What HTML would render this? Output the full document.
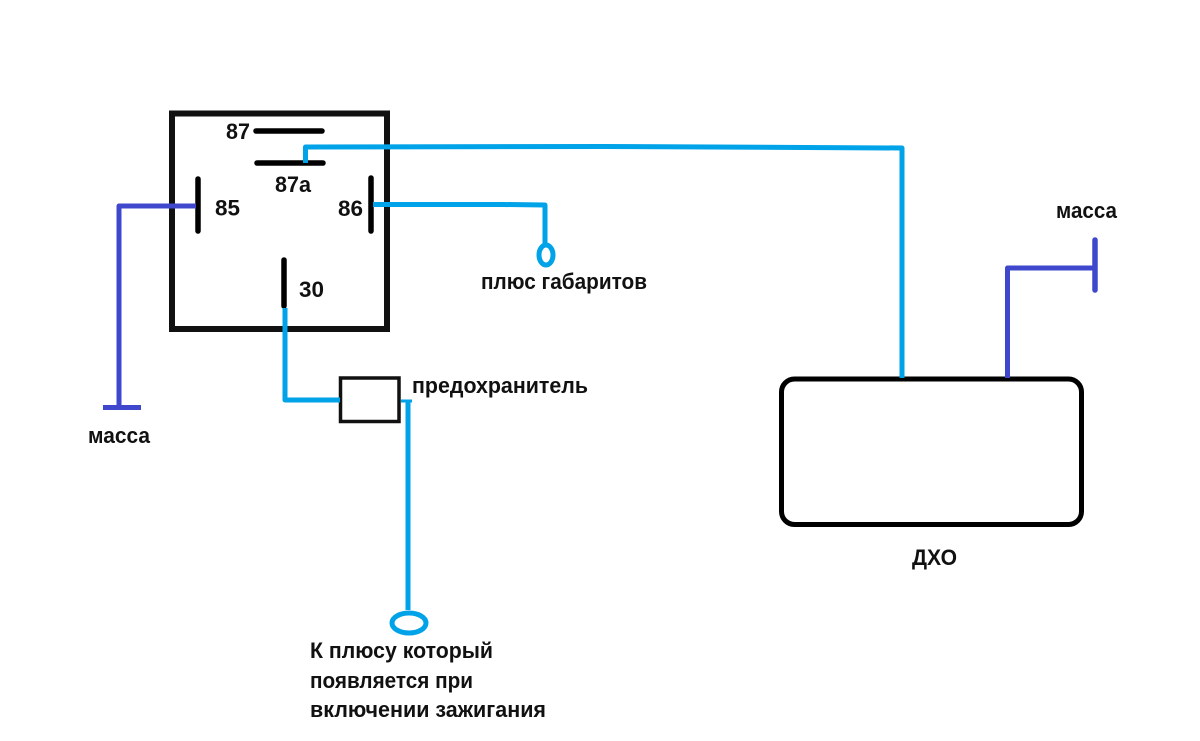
<!DOCTYPE html>
<html><head><meta charset="utf-8"><style>
html,body{margin:0;padding:0;background:#fff}
svg{display:block}
text{font-family:"Liberation Sans",sans-serif;font-weight:bold;font-size:22px;fill:#111}
</style></head><body>
<svg width="1200" height="741" viewBox="0 0 1200 741" xmlns="http://www.w3.org/2000/svg" fill="none">
<rect x="172" y="113.5" width="215" height="215.5" stroke="#111" stroke-width="6"/>
<g stroke="#000" stroke-width="5.5" stroke-linecap="round">
<path d="M256 131H322M257 163H323M198 179V231M371 178V231M284 260V306"/>
</g>
<rect x="340.5" y="378" width="58.5" height="43.5" stroke="#111" stroke-width="3.5"/>
<rect x="781.5" y="379" width="300" height="145.5" rx="13" stroke="#000" stroke-width="5"/>
<g stroke="#00a2e8" stroke-width="5" stroke-linejoin="round">
<path d="M305.500 163V147L603 146.500L902 148V378"/>
<path d="M373 204.500H503L545 205V245"/>
<path d="M285 308V400H340"/>
<path d="M408 401V610"/>
<path d="M401 401H412" stroke-width="3"/>
<ellipse cx="546" cy="255" rx="7" ry="10"/>
<ellipse cx="409" cy="623" rx="17" ry="10"/>
</g>
<g stroke="#3f48cc" stroke-width="5" stroke-linejoin="round">
<path d="M196 206H119V406"/>
<path d="M103 407.500H141"/>
<path d="M1007.500 378V268H1095"/>
<path d="M1095 240V290" stroke-linecap="round" stroke-width="5.500"/>
</g>
<text x="226" y="139" textLength="24" lengthAdjust="spacingAndGlyphs">87</text>
<text x="275" y="192" textLength="36" lengthAdjust="spacingAndGlyphs">87a</text>
<text x="215" y="215.500" textLength="25" lengthAdjust="spacingAndGlyphs">85</text>
<text x="338" y="216" textLength="25" lengthAdjust="spacingAndGlyphs">86</text>
<text x="299" y="297" textLength="25" lengthAdjust="spacingAndGlyphs">30</text>
<text x="481" y="289" textLength="166" lengthAdjust="spacingAndGlyphs">плюс габаритов</text>
<text x="412" y="393" textLength="176" lengthAdjust="spacingAndGlyphs">предохранитель</text>
<text x="88" y="443" textLength="62" lengthAdjust="spacingAndGlyphs">масса</text>
<text x="1056" y="218" textLength="61" lengthAdjust="spacingAndGlyphs">масса</text>
<text x="912" y="565" textLength="45" lengthAdjust="spacingAndGlyphs">ДХО</text>
<text x="310" y="658" textLength="183" lengthAdjust="spacingAndGlyphs">К плюсу который</text>
<text x="310" y="688" textLength="163" lengthAdjust="spacingAndGlyphs">появляется при</text>
<text x="310" y="717" textLength="236" lengthAdjust="spacingAndGlyphs">включении зажигания</text>
</svg>
</body></html>
